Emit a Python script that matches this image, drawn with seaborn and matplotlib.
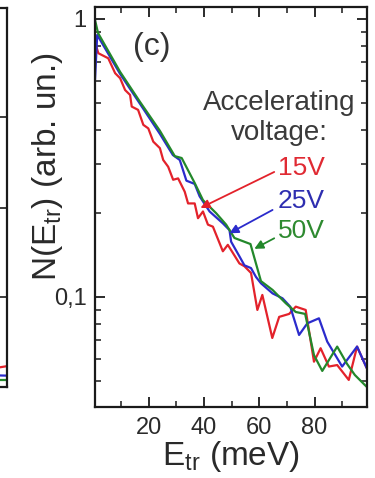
import numpy as np
import pandas as pd
import matplotlib
matplotlib.use("Agg")
import matplotlib.pyplot as plt
from matplotlib.ticker import FixedLocator, FixedFormatter, LogLocator, NullFormatter, MultipleLocator
import seaborn as sns

# ---------------- data ----------------
red_x = [0.5, 1.7, 5.3, 7.8, 9.6, 11.4, 13.2, 13.8, 16.1, 18.0, 19.8, 21.6, 24.0, 25.2, 27.0,
         28.8, 30.6, 33.0, 34.2, 36.6, 37.8, 39.6, 41.4, 43.2, 46.8, 48.6, 52.8, 54.6, 57.0,
         59.3, 61.1, 64.7, 67.2, 70.8, 73.2, 76.8, 79.8, 82.2, 85.2, 88.2, 92.4, 95.4, 98.9]
red_y = [0.827, 0.753, 0.722, 0.638, 0.612, 0.555, 0.533, 0.484, 0.471, 0.416, 0.404, 0.362,
         0.343, 0.311, 0.294, 0.264, 0.267, 0.239, 0.217, 0.217, 0.192, 0.203, 0.182, 0.179,
         0.146, 0.154, 0.132, 0.129, 0.122, 0.0898, 0.1017, 0.0712, 0.0848, 0.0869, 0.0923,
         0.0898, 0.0585, 0.0654, 0.0562, 0.0569, 0.0503, 0.0663, 0.0555]

blue_x = [0.5, 1.3, 9.6, 16.8, 24.0, 28.7, 31.2, 33.6, 36.6, 38.4, 42.0, 46.8, 49.2, 49.8,
          52.8, 54.6, 57.0, 58.8, 60.6, 64.8, 68.4, 71.2, 74.4, 77.4, 81.6, 84.6, 90.0, 95.4, 98.9]
blue_y = [0.603, 0.876, 0.634, 0.495, 0.386, 0.324, 0.311, 0.262, 0.255, 0.230, 0.203, 0.184,
          0.174, 0.158, 0.140, 0.130, 0.127, 0.118, 0.112, 0.103, 0.0989, 0.0923, 0.0730,
          0.0804, 0.0838, 0.0691, 0.0562, 0.0663, 0.0555]

green_x = [0.5, 1.6, 9.6, 16.8, 24.0, 29.4, 31.9, 36.6, 39.6, 44.4, 48.0, 51.0, 56.8, 60.6,
           64.8, 69.6, 73.2, 76.6, 79.8, 82.8, 88.2, 91.8, 94.6, 98.9]
green_y = [0.992, 0.890, 0.645, 0.503, 0.396, 0.321, 0.316, 0.257, 0.223, 0.200, 0.182, 0.163,
           0.155, 0.114, 0.106, 0.0949, 0.0883, 0.0869, 0.0618, 0.0542, 0.0663, 0.0574,
           0.0524, 0.0475]

series_names = ["15V", "25V", "50V"]
series_colors = ["#e3222b", "#2b2bcc", "#23882b"]
label_colors = ["#e02a33", "#2e2eb0", "#2e8a30"]

# arrow tips / tails (data coords)
arrow_tips = [(38.7, 0.209), (49.2, 0.1695), (58.2, 0.149)]
arrow_tails = [(65.4, 0.2816), (64.8, 0.2056), (65.4, 0.1626)]

x_major = [20, 40, 60, 80]
x_labels = ["20", "40", "60", "80"]
y_major = [0.1, 1]
y_labels = ["0,1", "1"]

# partial left neighbour panel (only its right edge is visible)
left_x = [0.0, 0.5, 1.0]
left_red = [0.12, 0.15, 0.22]
left_blue = [0.12, 0.13, 0.12]
left_green = [0.06, 0.07, 0.07]
left_ticks = [0.95, 1.89, 2.85]

# ---------------- style ----------------
sns.set_theme(style="ticks")
plt.rcParams["font.family"] = ["Liberation Sans", "DejaVu Sans"]
plt.rcParams["mathtext.fontset"] = "custom"
plt.rcParams["mathtext.rm"] = "Liberation Sans"
plt.rcParams["mathtext.it"] = "Liberation Sans"
plt.rcParams["mathtext.default"] = "regular"

fig = plt.figure(figsize=(3.75, 4.78), dpi=100)
ax = fig.add_axes([95 / 375, 1 - 407 / 478, 272 / 375, 400 / 478])

df = pd.concat([
    pd.DataFrame({"E": red_x, "N": red_y, "V": series_names[0]}),
    pd.DataFrame({"E": blue_x, "N": blue_y, "V": series_names[1]}),
    pd.DataFrame({"E": green_x, "N": green_y, "V": series_names[2]}),
])
sns.lineplot(data=df, x="E", y="N", hue="V", palette=dict(zip(series_names, series_colors)),
             estimator=None, sort=False, legend=False, lw=1.6, ax=ax)

ax.set_yscale("log")
ax.set_xlim(0.5, 99)
ax.set_ylim(0.0402, 1.104)

ax.xaxis.set_major_locator(FixedLocator(x_major))
ax.xaxis.set_major_formatter(FixedFormatter(x_labels))
ax.xaxis.set_minor_locator(MultipleLocator(10))
ax.yaxis.set_major_locator(FixedLocator(y_major))
ax.yaxis.set_major_formatter(FixedFormatter(y_labels))
ax.yaxis.set_minor_locator(LogLocator(base=10, subs=np.arange(2, 10)))
ax.yaxis.set_minor_formatter(NullFormatter())

ax.tick_params(which="both", direction="in", top=True, right=True, colors="#1a1a1a",
               labelcolor="#2a2a2a", labelsize=17)
ax.tick_params(which="major", length=7, width=1.3)
ax.tick_params(which="minor", length=4, width=1.1)
ax.tick_params(axis="x", pad=7)
ax.tick_params(axis="y", pad=6)
for s in ax.spines.values():
    s.set_linewidth(1.6)
    s.set_color("#1a1a1a")

ax.set_xlabel(r"E$_{\rm tr}$ (meV)", fontsize=24, color="#2a2a2a", labelpad=0)
ax.set_ylabel(r"N(E$_{\rm tr}$) (arb. un.)", fontsize=24, color="#2a2a2a")
ax.yaxis.set_label_coords(-0.112, 0.602)

ax.text(0.21, 0.90, "(c)", transform=ax.transAxes, fontsize=23, color="#333333",
        ha="center", va="center")
ax.text(0.676, 0.7425, "Accelerating", transform=ax.transAxes, fontsize=20,
        color="#3a3a3a", ha="center", va="baseline")
ax.text(0.676, 0.6675, "voltage:", transform=ax.transAxes, fontsize=20,
        color="#3a3a3a", ha="center", va="baseline")

label_y = [0.58, 0.498, 0.4225]
for name, col, ly in zip(series_names, label_colors, label_y):
    ax.text(0.672, ly, name, transform=ax.transAxes, fontsize=19, color=col,
            ha="left", va="baseline")

for tip, tail, col in zip(arrow_tips, arrow_tails, series_colors):
    ax.annotate("", xy=tip, xytext=tail,
                arrowprops=dict(arrowstyle="-|>", color=col, lw=1.3,
                                mutation_scale=13, shrinkA=0, shrinkB=0))

# neighbouring panel edge
axl = fig.add_axes([-0.2, 1 - 387 / 478, 0.2 + 7 / 375, 379 / 478])
for yy, col in zip([left_red, left_blue, left_green], series_colors):
    sns.lineplot(x=left_x, y=yy, color=col, lw=1.6, ax=axl, estimator=None, sort=False)
axl.set_xlim(0, 1)
axl.set_ylim(0, 4)
axl.set_yticks(left_ticks)
axl.set_xticks([])
axl.tick_params(axis="y", direction="in", right=True, left=False, labelleft=False,
                length=6, width=1.2, colors="#1a1a1a")
for s in axl.spines.values():
    s.set_linewidth(1.6)
    s.set_color("#1a1a1a")

fig.savefig("out.png", dpi=100)
